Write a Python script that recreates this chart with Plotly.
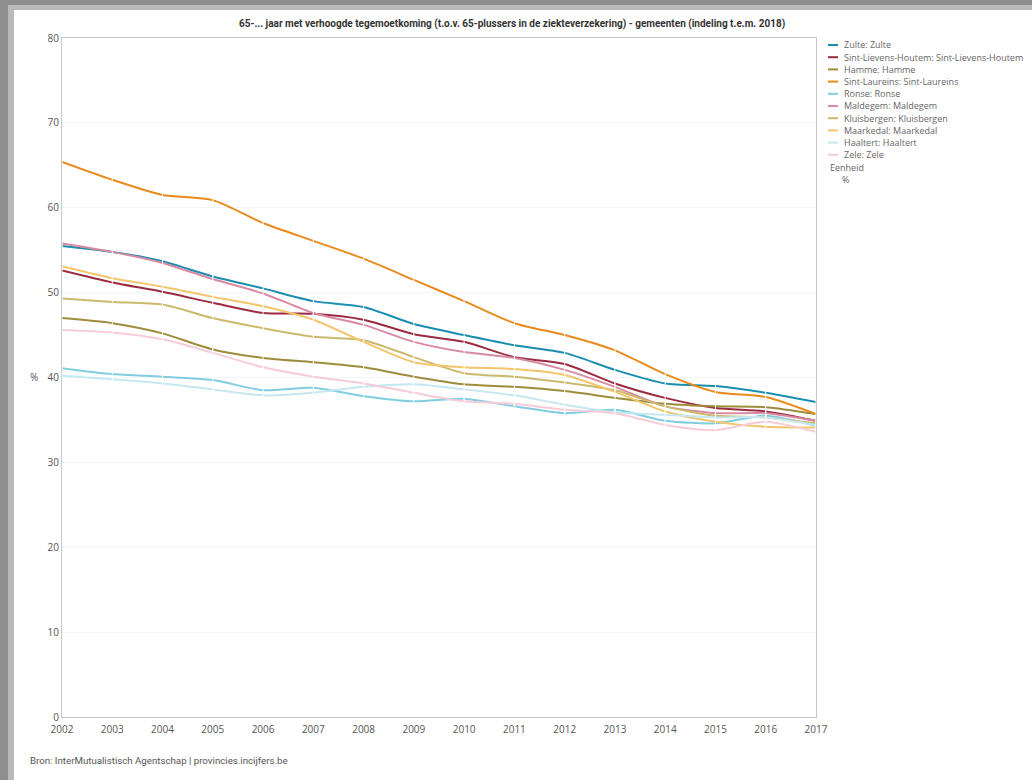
import plotly.graph_objects as go

years = [2002, 2003, 2004, 2005, 2006, 2007, 2008, 2009, 2010, 2011, 2012, 2013, 2014, 2015, 2016, 2017]

names = ["Zulte: Zulte", "Sint-Lievens-Houtem: Sint-Lievens-Houtem", "Hamme: Hamme",
         "Sint-Laureins: Sint-Laureins", "Ronse: Ronse", "Maldegem: Maldegem",
         "Kluisbergen: Kluisbergen", "Maarkedal: Maarkedal", "Haaltert: Haaltert", "Zele: Zele"]

zulte = [55.5, 54.8, 53.7, 51.9, 50.5, 49.0, 48.3, 46.3, 45.0, 43.8, 42.9, 40.9, 39.3, 39.0, 38.2, 37.1]
sint_lievens_houtem = [52.6, 51.2, 50.1, 48.8, 47.6, 47.5, 46.8, 45.1, 44.2, 42.4, 41.6, 39.3, 37.6, 36.4, 36.0, 34.9]
hamme = [47.0, 46.4, 45.2, 43.3, 42.3, 41.8, 41.2, 40.1, 39.2, 38.9, 38.4, 37.6, 36.9, 36.6, 36.5, 35.7]
sint_laureins = [65.4, 63.3, 61.5, 60.9, 58.2, 56.1, 54.0, 51.5, 49.0, 46.4, 45.0, 43.2, 40.4, 38.3, 37.7, 35.7]
ronse = [41.1, 40.4, 40.1, 39.7, 38.5, 38.8, 37.8, 37.2, 37.5, 36.6, 35.8, 36.2, 34.9, 34.6, 35.5, 34.3]
maldegem = [55.8, 54.8, 53.5, 51.6, 49.9, 47.6, 46.2, 44.2, 43.0, 42.3, 40.9, 38.9, 36.6, 35.8, 35.8, 34.9]
kluisbergen = [49.3, 48.9, 48.6, 47.0, 45.8, 44.8, 44.4, 42.4, 40.5, 40.1, 39.4, 38.5, 36.6, 35.5, 35.3, 34.6]
maarkedal = [53.1, 51.7, 50.7, 49.5, 48.4, 46.8, 44.2, 41.8, 41.2, 41.0, 40.3, 38.3, 36.0, 34.8, 34.2, 34.1]
haaltert = [40.2, 39.8, 39.3, 38.6, 37.9, 38.2, 38.9, 39.2, 38.6, 37.9, 36.8, 35.9, 35.6, 35.3, 35.3, 34.4]
zele = [45.6, 45.3, 44.5, 42.9, 41.2, 40.1, 39.3, 38.2, 37.2, 36.9, 36.2, 35.8, 34.4, 33.8, 34.8, 33.6]

series = [zulte, sint_lievens_houtem, hamme, sint_laureins, ronse,
          maldegem, kluisbergen, maarkedal, haaltert, zele]
colors = ["#1b8db0", "#9a2b40", "#9c8c3c", "#e98a1c", "#80cde0",
          "#d98aa2", "#cbb96c", "#f3c56c", "#c4e7f1", "#f6ccd8"]

# plot area in pixels (fig is 1032x780)
L, R, T, B = 62, 816, 38, 717
def px(x):
    return (x - L) / (R - L)
def py(y):
    return (B - y) / (B - T)

fig = go.Figure()
for name, vals, col in zip(names, series, colors):
    fig.add_trace(go.Scatter(
        x=years, y=vals, name=name, mode="lines+markers",
        line=dict(color=col, width=2, shape="spline", smoothing=0.7),
        marker=dict(symbol="line-ns", size=5, color="white",
                    line=dict(color="white", width=1)),
        showlegend=False))

shapes = [
    # card shadow and white card
    dict(type="rect", xref="paper", yref="paper", x0=px(0), x1=px(1032), y0=py(780), y1=py(0),
         fillcolor="#8e8e8e", line_width=0, layer="below"),
    dict(type="rect", xref="paper", yref="paper", x0=px(8), x1=px(1032), y0=py(780), y1=py(5),
         fillcolor="#b9b9b9", line_width=0, layer="below"),
    dict(type="rect", xref="paper", yref="paper", x0=px(14), x1=px(1032), y0=py(780), y1=py(10),
         fillcolor="white", line_width=0, layer="below"),
]
annotations = []

# legend drawn by hand to keep the tight spacing
ly = 45
for name, col in zip(names, colors):
    shapes.append(dict(type="line", xref="paper", yref="paper", x0=px(828), x1=px(838),
                       y0=py(ly), y1=py(ly), line=dict(color=col, width=2)))
    annotations.append(dict(xref="paper", yref="paper", x=px(842), y=py(ly), text=name,
                            showarrow=False, xanchor="left", yanchor="middle",
                            font=dict(size=9, color="#666666")))
    ly += 12.2
annotations.append(dict(xref="paper", yref="paper", x=px(828), y=py(ly), text="Eenheid",
                        showarrow=False, xanchor="left", yanchor="middle",
                        font=dict(size=9, color="#666666")))
annotations.append(dict(xref="paper", yref="paper", x=px(840), y=py(ly + 12.2), text="%",
                        showarrow=False, xanchor="left", yanchor="middle",
                        font=dict(size=9, color="#666666")))

annotations.append(dict(xref="paper", yref="paper", x=px(512), y=py(24),
                        text="<b>65-... jaar met verhoogde tegemoetkoming (t.o.v. 65-plussers in de ziekteverzekering) - gemeenten (indeling t.e.m. 2018)</b>",
                        showarrow=False, xanchor="center", yanchor="middle",
                        font=dict(family="Roboto", size=10, color="#333333")))
annotations.append(dict(xref="paper", yref="paper", x=px(28), y=py(760),
                        text="Bron: InterMutualistisch Agentschap | provincies.incijfers.be",
                        showarrow=False, xanchor="left", yanchor="middle",
                        font=dict(family="Roboto", size=9.7, color="#555555")))
annotations.append(dict(xref="paper", yref="paper", x=px(34), y=py(377), text="%",
                        showarrow=False, xanchor="center", yanchor="middle",
                        font=dict(size=10, color="#555555")))

fig.update_layout(
    width=1032, height=780,
    margin=dict(l=L, r=1032 - R, t=T, b=780 - B),
    paper_bgcolor="#8e8e8e", plot_bgcolor="rgba(0,0,0,0)",
    font=dict(family="Open Sans, sans-serif", color="#555555"),
    shapes=shapes, annotations=annotations, showlegend=False,
)
fig.update_xaxes(range=[2002, 2017], tickmode="array", tickvals=years,
                 showgrid=False, showline=True, linecolor="#c8c8c8", mirror=True,
                 tickfont=dict(size=10, color="#555555"), ticks="", zeroline=False,
                 ticklabelstandoff=3)
fig.update_yaxes(range=[0, 80], dtick=10, showgrid=True, gridcolor="#eef6f9",
                 showline=True, linecolor="#c8c8c8", mirror=True, zeroline=False,
                 tickfont=dict(size=10, color="#555555"), ticks="")

# drop the page's default body margin so the figure sits at the top-left corner
fig.write_html("out.html", config={"displayModeBar": False},
               post_script="document.body.style.margin='0';")
